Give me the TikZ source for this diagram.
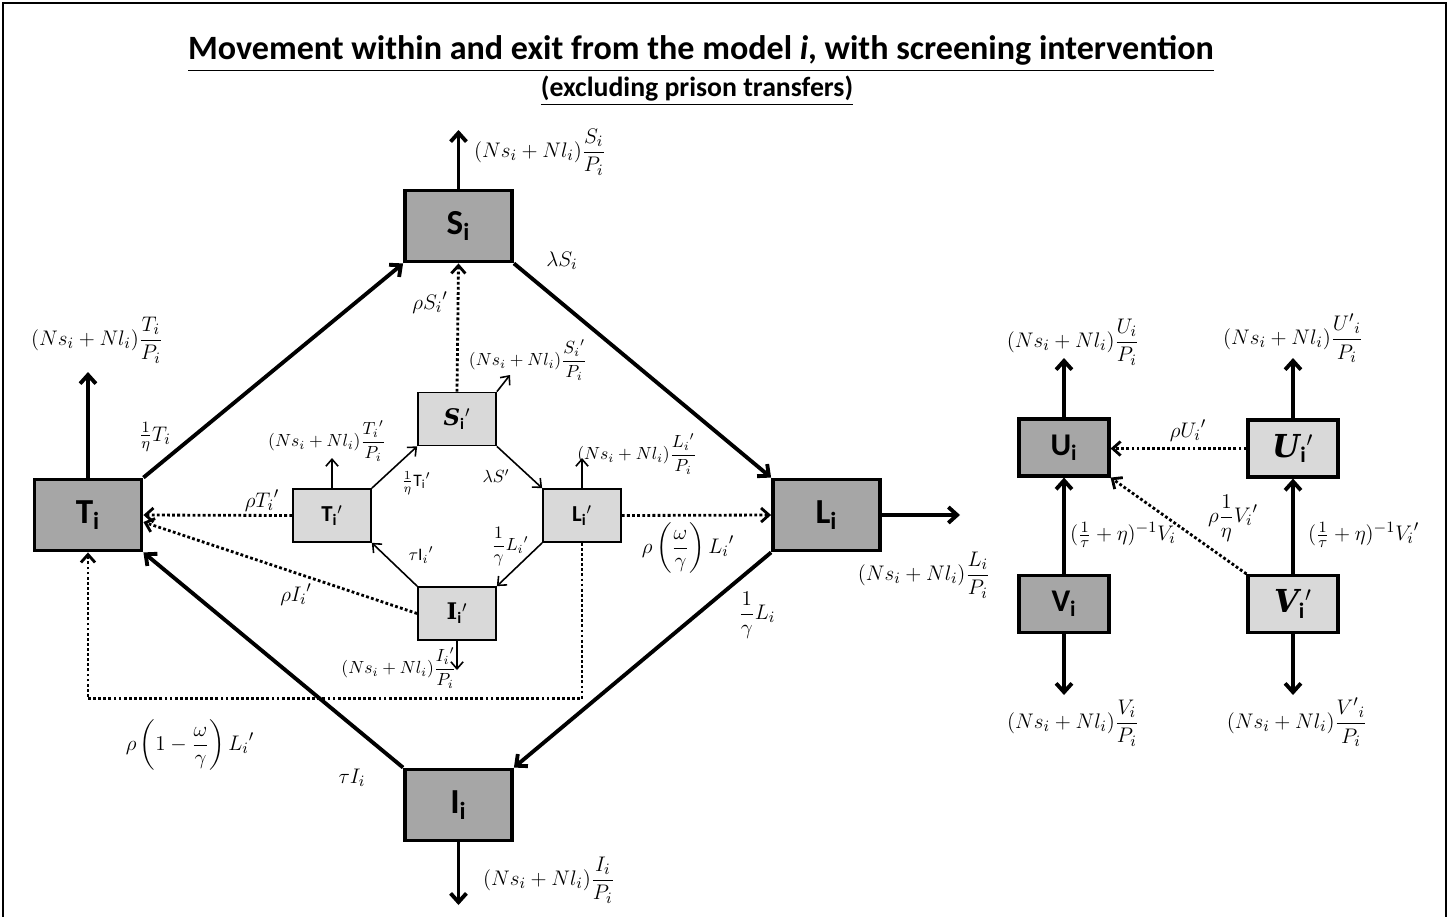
\documentclass[tikz,border=0pt]{standalone}
\usepackage{amsmath}
\usepackage{fontspec}
\setmainfont{Carlito}
\newfontfamily\bisf{DejaVu Serif}
\usetikzlibrary{arrows.meta}
\definecolor{boxdark}{HTML}{A6A6A6}
\definecolor{boxlight}{HTML}{D9D9D9}
\begin{document}
\begin{tikzpicture}[x=0.02cm,y=-0.02cm,
  bigbox/.style={draw, line width=2.2pt, fill=boxdark, minimum width=2.14cm, minimum height=1.42cm, inner sep=0pt, font=\fontsize{20}{24}\selectfont\bfseries},
  smallbox/.style={draw, line width=1pt, fill=boxlight, minimum width=1.56cm, minimum height=1.06cm, inner sep=0pt, font=\fontsize{13}{15}\selectfont\bfseries},
  rbox/.style={draw, line width=1.8pt, minimum width=1.8cm, minimum height=1.14cm, inner sep=0pt, font=\fontsize{18}{21}\selectfont\bfseries},
  thick arr/.style={line width=2.2pt, -{Straight Barb[length=5pt,width=9pt]}},
  thin arr/.style={line width=0.9pt, -{Straight Barb[length=4pt,width=7pt]}},
  dot arr/.style={line width=1.6pt, dash pattern=on 1.6pt off 1.3pt, -{Straight Barb[length=4.5pt,width=8pt]}},
  lbl/.style={font=\fontsize{12.5}{15}\selectfont, inner sep=1pt},
  slbl/.style={font=\fontsize{10}{12}\selectfont, inner sep=1pt}
]
\useasboundingbox (0,0) rectangle (1449,916);
\draw[line width=1.6pt] (3,930) -- (3,3) -- (1446,3) -- (1446,930);

% titles
\node (title) at (701,54) {\fontsize{19.4}{23}\selectfont\bfseries\underline{Movement within and exit from the model \textit{i}, with screening intervention}};
\node (subtitle) at (697,91) {\fontsize{15.8}{19}\selectfont\bfseries\underline{(excluding prison transfers)}};

% outer boxes
\node[bigbox] (S) at (458.5,226) {S$_{\textbf{i}}$};
\node[bigbox] (T) at (88,515) {T$_{\textbf{i}}$};
\node[bigbox] (L) at (826.5,515) {L$_{\textbf{i}}$};
\node[bigbox] (I) at (458.5,805) {I$_{\textbf{i}}$};

% inner boxes
\node[smallbox] (Sp) at (457,419) {{\bisf\itshape S}$_{\textbf{i}}{}^{\prime}$};
\node[smallbox] (Tp) at (332,515.5) {T$_{\textbf{i}}{}^{\prime}$};
\node[smallbox] (Lp) at (582,515.5) {L$_{\textbf{i}}{}^{\prime}$};
\node[smallbox] (Ip) at (457,613.5) {{\bisf I}$_{\textbf{i}}{}^{\prime}$};

% right boxes
\node[rbox, fill=boxdark] (U) at (1064,447.5) {U$_{\textbf{i}}$};
\node[rbox, fill=boxlight] (Up) at (1293,448.5) {{\bisf\itshape U}$_{\textbf{i}}{}^{\prime}$};
\node[rbox, fill=boxdark] (V) at (1064,604) {V$_{\textbf{i}}$};
\node[rbox, fill=boxlight] (Vp) at (1293,604) {{\bisf\itshape V}$_{\textbf{i}}{}^{\prime}$};

% outer exits
\coordinate (Sx) at (458.5,130);
\coordinate (Tx) at (88,372);
\coordinate (Lx) at (960,515);
\coordinate (Ix) at (458.5,905);
\draw[thick arr] (S.north) -- (Sx);
\draw[thick arr] (T.north) -- (Tx);
\draw[thick arr] (L.east) -- (Lx);
\draw[thick arr] (I.south) -- (Ix);
\node[lbl, anchor=west] at (472,152) {$(Ns_i+Nl_i)\dfrac{S_i}{P_i}$};
\node[lbl] at (97,340) {$(Ns_i+Nl_i)\dfrac{T_i}{P_i}$};
\node[lbl] at (924,575) {$(Ns_i+Nl_i)\dfrac{L_i}{P_i}$};
\node[lbl, anchor=west] at (481,880) {$(Ns_i+Nl_i)\dfrac{I_i}{P_i}$};

% outer cycle
\draw[thick arr] (T.north east) -- (S.south west);
\draw[thick arr] (S.south east) -- (L.north west);
\draw[thick arr] (L.south west) -- (I.north east);
\draw[thick arr] (I.north west) -- (T.south east);
\node[lbl] at (155,437) {$\frac{1}{\eta}T_i$};
\node[lbl] at (562,261) {$\lambda S_i$};
\node[lbl] at (757,615) {$\dfrac{1}{\gamma}L_i$};
\node[lbl] at (352,778) {$\tau I_i$};

% dotted transfers
\draw[dot arr] (Sp.north) -- (S.south);
\draw[dot arr] (Tp.west) -- (T.east);
\draw[dot arr] (Ip.west) -- ([yshift=-4pt]T.east);
\draw[dot arr] (Lp.east) -- (L.west);
\draw[dot arr] (Lp.south) -- ++(0,156) -| (T.south);
\node[lbl] at (430,303) {$\rho {S_i}'$};
\node[lbl] at (262,501) {$\rho {T_i}'$};
\node[lbl] at (296,595) {$\rho {I_i}'$};
\node[lbl] at (688,548) {$\rho\left(\dfrac{\omega}{\gamma}\right){L_i}'$};
\node[lbl] at (190,745) {$\rho\left(1-\dfrac{\omega}{\gamma}\right){L_i}'$};

% inner cycle
\draw[thin arr] (Tp.north east) -- (Sp.south west);
\draw[thin arr] (Sp.south east) -- (Lp.north west);
\draw[thin arr] (Lp.south west) -- (Ip.north east);
\draw[thin arr] (Ip.north west) -- (Tp.south east);
\node[slbl] at (416,483) {$\frac{1}{\eta}\mathrm{T_i}'$};
\node[slbl] at (496,476) {$\lambda S'$};
\node[slbl] at (510,547) {$\dfrac{1}{\gamma}{L_i}'$};
\node[slbl] at (421,555) {$\tau{\mathrm{I}_i}'$};

% inner exits
\coordinate (Spx) at (510,375);
\coordinate (Tpx) at (332,458);
\coordinate (Lpx) at (582,458);
\coordinate (Ipx) at (457,670);
\draw[thin arr] (Sp.north east) -- (Spx);
\draw[thin arr] (Tp.north) -- (Tpx);
\draw[thin arr] (Lp.north) -- (Lpx);
\draw[thin arr] (Ip.south) -- (Ipx);
\node[slbl] at (528,360) {$(Ns_i+Nl_i)\dfrac{{S_i}'}{P_i}$};
\node[slbl] at (327,441) {$(Ns_i+Nl_i)\dfrac{{T_i}'}{P_i}$};
\node[slbl] at (637,454) {$(Ns_i+Nl_i)\dfrac{{L_i}'}{P_i}$};
\node[slbl] at (399,668) {$(Ns_i+Nl_i)\dfrac{{I_i}'}{P_i}$};

% right part
\coordinate (Ux) at (1064,358);
\coordinate (Upx) at (1293,358);
\coordinate (Vx) at (1064,695);
\coordinate (Vpx) at (1293,695);
\draw[thick arr] (U.north) -- (Ux);
\draw[thick arr] (Up.north) -- (Upx);
\draw[thick arr] (V.south) -- (Vx);
\draw[thick arr] (Vp.south) -- (Vpx);
\draw[thick arr] (V.north) -- (U.south);
\draw[thick arr] (Vp.north) -- (Up.south);
\draw[dot arr] (Up.west) -- (Up.west -| U.east);
\draw[dot arr] (Vp.north west) -- (U.south east);
\node[lbl] at (1073,342) {$(Ns_i+Nl_i)\dfrac{U_i}{P_i}$};
\node[lbl] at (1293,338) {$(Ns_i+Nl_i)\dfrac{{U'}_i}{P_i}$};
\node[lbl] at (1073,723) {$(Ns_i+Nl_i)\dfrac{V_i}{P_i}$};
\node[lbl] at (1297,722) {$(Ns_i+Nl_i)\dfrac{{V'}_i}{P_i}$};
\node[lbl, anchor=west] at (1068,535) {$(\frac{1}{\tau}+\eta)^{-1}V_i$};
\node[lbl, anchor=west] at (1306,535) {$(\frac{1}{\tau}+\eta)^{-1}{V_i}'$};
\node[lbl] at (1188,431) {$\rho {U_i}'$};
\node[lbl] at (1233,518) {$\rho\dfrac{1}{\eta}{V_i}'$};
\end{tikzpicture}
\end{document}
